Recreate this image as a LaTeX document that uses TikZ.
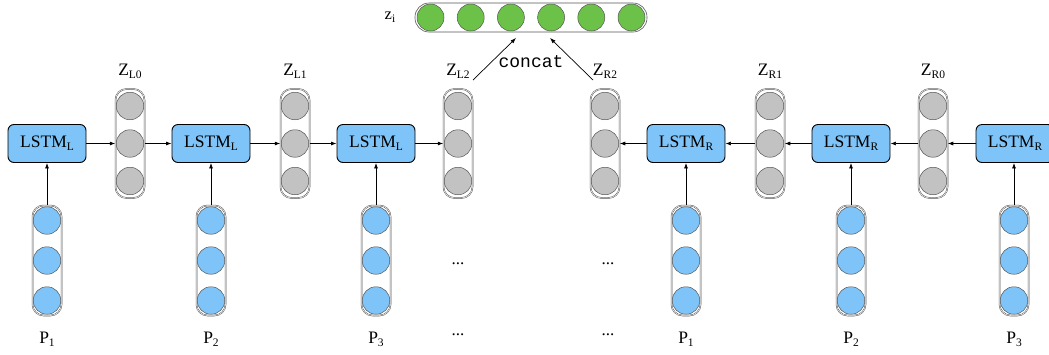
\documentclass[tikz,border=0pt]{standalone}
\usepackage{fontspec}
\setmainfont{Liberation Serif}
\newfontfamily\monofam{Liberation Mono}
\usetikzlibrary{arrows.meta,calc}
\definecolor{cellblue}{HTML}{7EC4F8}
\definecolor{cellgray}{HTML}{C2C2C2}
\definecolor{cellgreen}{HTML}{6CC248}
\definecolor{rimgray}{HTML}{555555}
% lowered, reduced subscript as used in the labels
\newcommand\lowsub[1]{\raisebox{-0.4ex}{\fontsize{11.5}{12}\selectfont #1}}

\tikzset{
  lstmbox/.style={draw=black, line width=0.9pt, fill=cellblue, rounded corners=6pt,
    minimum width=78pt, minimum height=38pt, inner sep=0pt,
    font=\fontsize{17.5}{20}\selectfont},
  vecbox/.style={draw=rimgray, line width=0.5pt, double=white, double distance=0.5pt,
    rounded corners=11pt, minimum width=29pt, inner sep=0pt},
  unit/.style={circle, draw=rimgray, line width=0.5pt, minimum size=27.5pt, inner sep=0pt},
  lbl/.style={font=\fontsize{17.5}{20}\selectfont, inner sep=0pt},
  flow/.style={line width=0.7pt, -{Latex[length=5.5pt,width=4pt]}},
  dotlbl/.style={font=\fontsize{17}{17}\selectfont, inner sep=0pt},
}

\begin{document}
\begin{tikzpicture}[x=1pt,y=-1pt]
\useasboundingbox (0,0) rectangle (1049,354);
\clip (0,0) rectangle (1049,354);

% ---------- concatenated vector z_i ----------
\node[draw=rimgray, line width=0.6pt, rounded corners=14pt, minimum width=232pt,
      minimum height=29pt, inner sep=0pt] (zi) at (531,17.5) {};
\foreach \k in {0,...,5}
  \node[unit, fill=cellgreen, minimum size=27pt] (zi\k) at (430.5+40.2*\k,17.5) {};
\node[lbl, font=\fontsize{16.5}{18}\selectfont] (zilbl) at (390,17) {z\lowsub{i}};

% ---------- hidden-state vectors ----------
\foreach \nm/\x/\lab in {zL0/130/L0, zL1/295/L1, zL2/458/L2, zR2/605/R2, zR1/770/R1, zR0/933/R0}{
  \node[vecbox, minimum height=109pt] (\nm) at (\x,143.5) {};
  \foreach \k/\dy in {1/-37.5,2/0,3/37.5}
    \node[unit, fill=cellgray] (\nm c\k) at (\x,143.5+\dy) {};
  \node[lbl] (\nm lbl) at (\x,71) {Z\lowsub{\lab}};
}

% ---------- LSTM cells ----------
\foreach \nm/\x/\s in {lstmLa/47/L, lstmLb/211/L, lstmLc/376/L, lstmRc/686/R, lstmRb/851/R, lstmRa/1015/R}
  \node[lstmbox] (\nm) at (\x,143.5) {LSTM\lowsub{\s}};

% ---------- input vectors ----------
\foreach \nm/\x/\lab in {pLa/47/1, pLb/211/2, pLc/376/3, pRc/686/1, pRb/851/2, pRa/1014/3}{
  \node[vecbox, minimum height=110pt] (\nm) at (\x,260.5) {};
  \foreach \k/\dy in {1/-40,2/0,3/40}
    \node[unit, fill=cellblue] (\nm c\k) at (\x,260.5+\dy) {};
  \node[lbl] (\nm lbl) at (\x,339) {P\lowsub{\lab}};
}

% inputs feed the cells
\foreach \p/\c in {pLa/lstmLa, pLb/lstmLb, pLc/lstmLc, pRc/lstmRc, pRb/lstmRb}
  \draw[flow] (\p.north) -- (\c.south);
\draw[flow] (pRa.north) -- (pRa.north |- lstmRa.south);

% left-to-right chain
\draw[flow] (lstmLa.east) -- (zL0.west |- lstmLa.east);
\draw[flow] (zL0.east |- lstmLb.west) -- (lstmLb.west);
\draw[flow] (lstmLb.east) -- (zL1.west |- lstmLb.east);
\draw[flow] (zL1.east |- lstmLc.west) -- (lstmLc.west);
\draw[flow] (lstmLc.east) -- (zL2.west |- lstmLc.east);

% right-to-left chain
\draw[flow] (lstmRa.west) -- (zR0.east |- lstmRa.west);
\draw[flow] (zR0.west |- lstmRb.east) -- (lstmRb.east);
\draw[flow] (lstmRb.west) -- (zR1.east |- lstmRb.west);
\draw[flow] (zR1.west |- lstmRc.east) -- (lstmRc.east);
\draw[flow] (lstmRc.west) -- (zR2.east |- lstmRc.west);

% concatenation
\coordinate (catL) at (473,80);
\coordinate (catR) at (593,80);
\coordinate (tipL) at (516,38);
\coordinate (tipR) at (550,38);
\draw[flow] (catL) -- (tipL);
\draw[flow] (catR) -- (tipR);
\node[inner sep=0pt, font=\monofam\fontsize{18}{20}\selectfont] (cat) at (531,62) {concat};

% elided positions
\node[dotlbl] (d1) at (458,264) {...};
\node[dotlbl] (d2) at (458,335) {...};
\node[dotlbl] (d3) at (608,264) {...};
\node[dotlbl] (d4) at (608,335) {...};
\end{tikzpicture}
\end{document}
